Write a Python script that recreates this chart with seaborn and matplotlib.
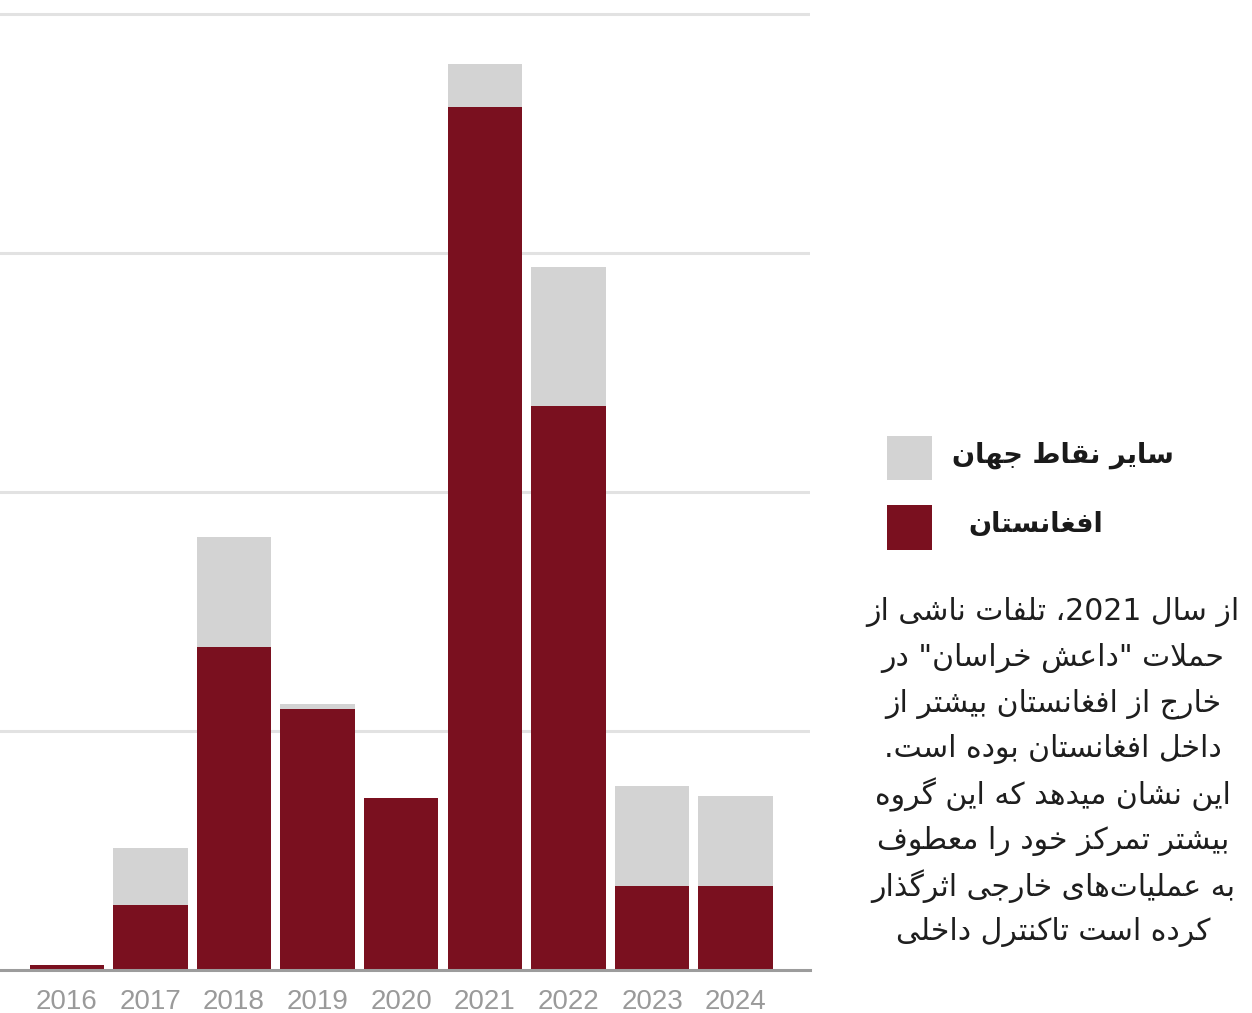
import matplotlib
matplotlib.use("Agg")
import matplotlib.pyplot as plt
import seaborn as sns
import pandas as pd
import re
from matplotlib.patches import Rectangle

# ---------------- data ----------------
years = ["2016", "2017", "2018", "2019", "2020", "2021", "2022", "2023", "2024"]
afghanistan = [2, 27, 135, 109, 72, 361, 236, 35, 35]
elsewhere = [0, 24, 46, 2.5, 0, 18, 58, 42, 38]
legend_labels = ["سایر نقاط جهان", "افغانستان"]
note_lines = [
    "از سال 2021، تلفات ناشی از",
    "حملات \"داعش خراسان\" در",
    "خارج از افغانستان بیشتر از",
    "داخل افغانستان بوده است.",
    "این نشان میدهد که این گروه",
    "بیشتر تمرکز خود را معطوف",
    "به عملیات\u200cهای خارجی اثرگذار",
    "کرده است تاکنترل داخلی",
]

RED = "#7a101f"
GRAY = "#d3d3d3"

# ------------- minimal Persian shaping (presentation forms) -------------
FORMS = {
    "\u0627": ("\uFE8D", "\uFE8E", None, None),
    "\u0628": ("\uFE8F", "\uFE90", "\uFE91", "\uFE92"),
    "\u062A": ("\uFE95", "\uFE96", "\uFE97", "\uFE98"),
    "\u062B": ("\uFE99", "\uFE9A", "\uFE9B", "\uFE9C"),
    "\u062C": ("\uFE9D", "\uFE9E", "\uFE9F", "\uFEA0"),
    "\u062D": ("\uFEA1", "\uFEA2", "\uFEA3", "\uFEA4"),
    "\u062E": ("\uFEA5", "\uFEA6", "\uFEA7", "\uFEA8"),
    "\u062F": ("\uFEA9", "\uFEAA", None, None),
    "\u0630": ("\uFEAB", "\uFEAC", None, None),
    "\u0631": ("\uFEAD", "\uFEAE", None, None),
    "\u0632": ("\uFEAF", "\uFEB0", None, None),
    "\u0633": ("\uFEB1", "\uFEB2", "\uFEB3", "\uFEB4"),
    "\u0634": ("\uFEB5", "\uFEB6", "\uFEB7", "\uFEB8"),
    "\u0637": ("\uFEC1", "\uFEC2", "\uFEC3", "\uFEC4"),
    "\u0639": ("\uFEC9", "\uFECA", "\uFECB", "\uFECC"),
    "\u063A": ("\uFECD", "\uFECE", "\uFECF", "\uFED0"),
    "\u0641": ("\uFED1", "\uFED2", "\uFED3", "\uFED4"),
    "\u0642": ("\uFED5", "\uFED6", "\uFED7", "\uFED8"),
    "\u0644": ("\uFEDD", "\uFEDE", "\uFEDF", "\uFEE0"),
    "\u0645": ("\uFEE1", "\uFEE2", "\uFEE3", "\uFEE4"),
    "\u0646": ("\uFEE5", "\uFEE6", "\uFEE7", "\uFEE8"),
    "\u0647": ("\uFEE9", "\uFEEA", "\uFEEB", "\uFEEC"),
    "\u0648": ("\uFEED", "\uFEEE", None, None),
    "\u06CC": ("\uFBFC", "\uFBFD", "\uFBFE", "\uFBFF"),
    "\u06A9": ("\uFB8E", "\uFB8F", "\uFB90", "\uFB91"),
    "\u06AF": ("\uFB92", "\uFB93", "\uFB94", "\uFB95"),
    "\u067E": ("\uFB56", "\uFB57", "\uFB58", "\uFB59"),
    "\u0686": ("\uFB7A", "\uFB7B", "\uFB7C", "\uFB7D"),
}


def _dual(c):
    return c in FORMS and FORMS[c][2] is not None


def shape(s):
    out = []
    n = len(s)
    i = 0
    while i < n:
        c = s[i]
        prev = s[i - 1] if i > 0 else None
        jp = prev is not None and _dual(prev) and c in FORMS
        if c == "\u0644" and i + 1 < n and s[i + 1] == "\u0627":
            out.append("\uFEFC" if jp else "\uFEFB")
            i += 2
            continue
        nxt = s[i + 1] if i + 1 < n else None
        jn = _dual(c) and nxt is not None and nxt in FORMS
        if c not in FORMS:
            out.append(c)
        else:
            iso, fin, ini, med = FORMS[c]
            out.append(med if (jp and jn) else fin if jp else ini if jn else iso)
        i += 1
    return "".join(out).replace("\u200c", "")


def visual(text):
    # right-to-left line: shape, reverse everything, keep digit runs LTR
    rev = shape(text)[::-1]
    return re.sub(r"[0-9]+", lambda m: m.group(0)[::-1], rev)


# ---------------- figure ----------------
sns.set_style("white")
plt.rcParams["font.family"] = ["DejaVu Sans"]

W, H = 1252, 1013
fig = plt.figure(figsize=(W / 100, H / 100), dpi=100)
ax = fig.add_axes([0, 43 / H, 810 / W, 970 / H])

df = pd.DataFrame({"year": years, "afg": afghanistan, "other": elsewhere})
df["total"] = df["afg"] + df["other"]

sns.barplot(data=df, x="year", y="total", color=GRAY, saturation=1,
            width=0.89, linewidth=0, ax=ax)
sns.barplot(data=df, x="year", y="afg", color=RED, saturation=1,
            width=0.89, linewidth=0, ax=ax)

ax.set_xlim(-0.80, 8.89)
ax.set_ylim(0, 970 / 2.39)
ax.set_yticks([100, 200, 300, 400])
ax.yaxis.grid(True, color="#e2e2e2", linewidth=2.2)
ax.set_axisbelow(True)
ax.tick_params(axis="y", length=0, labelleft=False)
ax.tick_params(axis="x", length=0, pad=14, labelsize=20, labelcolor="#9a9a9a")
for lab in ax.get_xticklabels():
    lab.set_fontfamily("Liberation Sans")
ax.set_xlabel("")
ax.set_ylabel("")
for s in ["top", "left", "right"]:
    ax.spines[s].set_visible(False)
ax.spines["bottom"].set_color("#9c9c9c")
ax.spines["bottom"].set_linewidth(2.2)


def fx(px):
    return px / W


def fy(py):
    return 1 - py / H


# legend
fig.add_artist(Rectangle((fx(887), fy(480)), 45 / W, 44 / H,
                         transform=fig.transFigure, color=GRAY, lw=0))
fig.add_artist(Rectangle((fx(887), fy(550)), 45 / W, 45 / H,
                         transform=fig.transFigure, color=RED, lw=0))
fig.text(fx(952), fy(455), visual(legend_labels[0]), fontsize=19.5,
         fontweight="bold", ha="left", va="center", color="#1a1a1a")
fig.text(fx(968), fy(525), visual(legend_labels[1]), fontsize=19.5,
         fontweight="bold", ha="left", va="center", color="#1a1a1a")

# note
for i, line in enumerate(note_lines):
    fig.text(fx(1053), fy(612 + 45.7 * i), visual(line), fontsize=21.5,
             ha="center", va="center", color="#1e1e1e")

fig.savefig("out.png", dpi=100)
